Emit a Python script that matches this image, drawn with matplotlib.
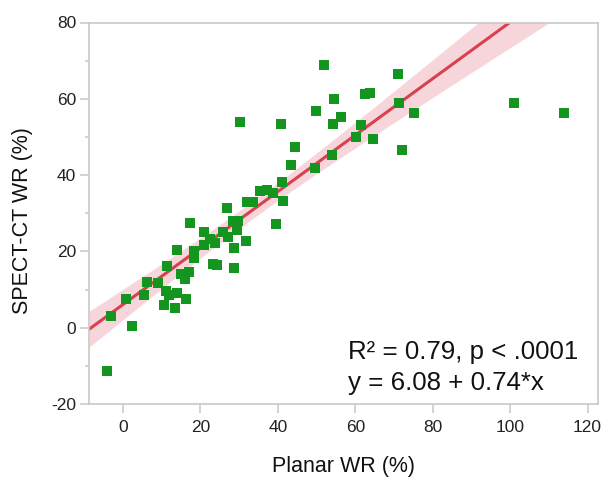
import numpy as np
import matplotlib
matplotlib.use("Agg")
import matplotlib.pyplot as plt
from matplotlib.ticker import MultipleLocator

plt.rcParams['font.family'] = ['Liberation Sans', 'DejaVu Sans']
plt.rcParams['axes.unicode_minus'] = False

planar = [-4.1, -3.0, 0.9, 2.4, 5.5, 6.3, 9.1, 11.4, 14.0, 17.2, 14.9, 16.1, 17.1,
          11.2, 13.9, 12.0, 10.7, 13.5, 16.4, 18.3, 18.3, 20.8, 20.8, 23.2, 24.2,
          22.5, 23.8, 25.9, 27.2, 28.8, 28.6, 26.9, 28.5, 29.8, 29.5, 31.9, 32.0,
          33.6, 35.3, 37.3, 38.8, 41.2, 41.4, 39.6, 43.5, 44.5, 49.7, 54.1, 40.9,
          30.2, 49.9, 54.3, 56.2, 54.6, 52.0, 62.4, 63.7, 61.6, 60.3, 64.7, 72.2,
          71.1, 71.4, 75.2, 100.9, 114.0]
spect = [-11.3, 3.1, 7.5, 0.5, 8.7, 12.0, 11.6, 16.2, 20.4, 27.5, 14.1, 12.8, 14.6,
         9.7, 9.0, 8.5, 6.0, 5.2, 7.5, 20.0, 18.3, 25.1, 21.7, 16.7, 16.4,
         23.3, 22.1, 25.0, 23.7, 20.9, 15.7, 31.4, 27.9, 27.9, 25.6, 22.8, 33.0,
         33.0, 35.9, 36.2, 35.4, 38.2, 33.2, 27.3, 42.7, 47.4, 41.9, 45.3, 53.4,
         53.8, 56.8, 53.4, 55.3, 60.0, 68.9, 61.3, 61.6, 53.1, 50.0, 49.5, 46.6,
         66.5, 59.0, 56.3, 58.9, 56.3]

intercept = 6.08
slope = 0.74
r2_text = "R\u00b2 = 0.79, p < .0001"
eq_text = "y = 6.08 + 0.74*x"

x = np.array(planar)
y = np.array(spect)
n = len(x)
xlim = (-8.7, 122.7)
ylim = (-20, 80)

fig = plt.figure(figsize=(6.13, 4.78), dpi=100)
ax = fig.add_axes([89.3 / 613, 1 - 404 / 478, (598 - 89.3) / 613, (404 - 22.5) / 478])

# confidence band
xs = np.linspace(xlim[0], xlim[1], 300)
yhat = intercept + slope * xs
resid = y - (intercept + slope * x)
s = np.sqrt(np.sum(resid ** 2) / (n - 2))
xm = x.mean()
sxx = np.sum((x - xm) ** 2)
hw = 1.997 * s * np.sqrt(1 / n + (xs - xm) ** 2 / sxx)
ax.fill_between(xs, yhat - hw, yhat + hw, color='#f6d6db', lw=0, zorder=1)
ax.plot(xs, yhat, color='#d8414e', lw=2.2, zorder=2)

ax.scatter(x, y, marker='s', s=62, color='#13951f', lw=0, zorder=3)

ax.set_xlim(*xlim)
ax.set_ylim(*ylim)
ax.xaxis.set_major_locator(MultipleLocator(20))
ax.yaxis.set_major_locator(MultipleLocator(20))
ax.yaxis.set_minor_locator(MultipleLocator(10))

for sp in ax.spines.values():
    sp.set_color('#c8c8c8')
    sp.set_linewidth(1.2)

ax.tick_params(axis='both', which='major', length=6.5, width=1.1, color='#c8c8c8',
               labelsize=12.5, labelcolor='#222222', pad=3)
ax.tick_params(axis='y', which='minor', length=3.2, width=1.1, color='#c8c8c8')
ax.tick_params(axis='x', pad=5)

ax.set_xlabel('Planar WR (%)', fontsize=15.5, color='#111111')
ax.set_ylabel('SPECT-CT WR (%)', fontsize=15.5, color='#111111')
ax.xaxis.set_label_coords(0.5, -0.137)
ax.yaxis.set_label_coords(-0.111, 0.482)

ax.text(348 / 613, 1 - 352 / 478, r2_text, transform=fig.transFigure, fontsize=18.6,
        va='center', ha='left', color='#111111')
ax.text(348 / 613, 1 - 383 / 478, eq_text, transform=fig.transFigure, fontsize=18.6,
        va='center', ha='left', color='#111111')

fig.savefig('out.png', dpi=100)
